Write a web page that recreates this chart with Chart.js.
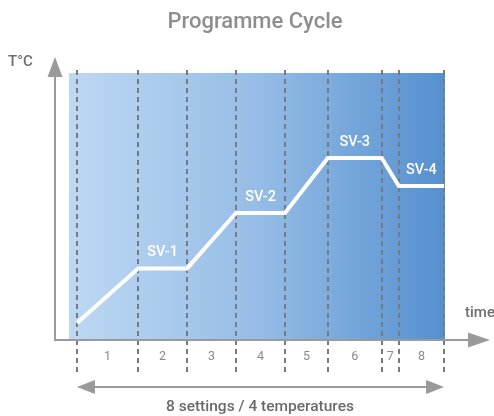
<!DOCTYPE html>
<html>
<head>
<meta charset="utf-8">
<script src="https://cdn.jsdelivr.net/npm/chart.js@4"></script>
<style>
html,body{margin:0;padding:0;background:#fff;}
#wrap{width:494px;height:416px;}
</style>
</head>
<body>
<div id="wrap"><canvas id="c" width="494" height="416"></canvas></div>
<script>
// Data
const stepBoundaries = [0, 10, 18, 26, 34, 41, 49.8, 52.6, 60];
const stepLabels = ['1','2','3','4','5','6','7','8'];
const profileTimes = [0, 10, 18, 26, 34, 41, 49.8, 52.6, 60];
const profileTemps = [6.4, 26.8, 26.8, 47.6, 47.6, 68.2, 68.2, 57.7, 57.7];
const svLabels = ['SV-1','SV-2','SV-3','SV-4'];
const svLabelTimes = [14, 30, 45.4, 56.3];
const titleText = 'Programme Cycle';
const yAxisLabel = 'T°C';
const xAxisLabel = 'time';
const spanLabel = '8 settings / 4 temperatures';

const FONT = 'Roboto, "Noto Sans", sans-serif';
const GREY = '#8e8e8e';

const deco = {
  id: 'deco',
  beforeDatasetsDraw(chart) {
    const {ctx, chartArea: a, scales: {x, y}} = chart;
    ctx.save();
    const g = ctx.createLinearGradient(a.left, 0, a.right, 0);
    g.addColorStop(0, '#bdd8f3');
    g.addColorStop(0.5, '#96bde6');
    g.addColorStop(1, '#5590cf');
    ctx.fillStyle = g;
    ctx.fillRect(a.left, a.top, a.right - a.left, a.bottom - a.top);
    // dashed step lines
    ctx.strokeStyle = '#777b80';
    ctx.lineWidth = 2;
    ctx.setLineDash([5, 4]);
    stepBoundaries.forEach(t => {
      const px = Math.round(x.getPixelForValue(t));
      ctx.beginPath();
      ctx.moveTo(px, a.top - 3);
      ctx.lineTo(px, a.bottom + 33);
      ctx.stroke();
    });
    ctx.setLineDash([]);
    // axes
    ctx.strokeStyle = '#9a9a9a';
    ctx.fillStyle = '#9a9a9a';
    ctx.lineWidth = 2;
    const ax = 55;
    ctx.beginPath();
    ctx.moveTo(ax, a.bottom + 1);
    ctx.lineTo(ax, 72);
    ctx.moveTo(ax - 1, a.bottom);
    ctx.lineTo(470, a.bottom);
    ctx.stroke();
    ctx.beginPath();
    ctx.moveTo(ax, 57); ctx.lineTo(ax - 7.5, 77); ctx.lineTo(ax + 7.5, 77); ctx.closePath(); ctx.fill();
    ctx.beginPath();
    ctx.moveTo(490, a.bottom); ctx.lineTo(468, a.bottom - 7.5); ctx.lineTo(468, a.bottom + 7.5); ctx.closePath(); ctx.fill();
    // span arrow
    const l = x.getPixelForValue(stepBoundaries[0]);
    const r = x.getPixelForValue(stepBoundaries[stepBoundaries.length - 1]);
    const sy = 387;
    ctx.beginPath();
    ctx.moveTo(l + 10, sy); ctx.lineTo(r - 10, sy); ctx.stroke();
    ctx.beginPath();
    ctx.moveTo(l, sy); ctx.lineTo(l + 18, sy - 7); ctx.lineTo(l + 18, sy + 7); ctx.closePath(); ctx.fill();
    ctx.beginPath();
    ctx.moveTo(r, sy); ctx.lineTo(r - 18, sy - 7); ctx.lineTo(r - 18, sy + 7); ctx.closePath(); ctx.fill();
    ctx.restore();
  },
  afterDatasetsDraw(chart) {
    const {ctx, chartArea: a, scales: {x, y}} = chart;
    ctx.save();
    ctx.textAlign = 'center';
    ctx.textBaseline = 'middle';
    // SV labels
    ctx.fillStyle = '#ffffff';
    ctx.font = '500 14.5px ' + FONT;
    svLabels.forEach((s, i) => {
      const idx = [1, 3, 5, 7][i];
      ctx.fillText(s, x.getPixelForValue(svLabelTimes[i]), y.getPixelForValue(profileTemps[idx]) - 16);
    });
    // step numbers
    ctx.fillStyle = '#8a8a8a';
    ctx.font = '400 12.5px ' + FONT;
    stepLabels.forEach((s, i) => {
      const m = (stepBoundaries[i] + stepBoundaries[i + 1]) / 2;
      ctx.fillText(s, x.getPixelForValue(m), a.bottom + 17);
    });
    // axis labels
    ctx.fillStyle = '#6e6e6e';
    ctx.font = '500 15px ' + FONT;
    ctx.textAlign = 'left';
    ctx.fillText(yAxisLabel, 8, 62);
    ctx.fillText(xAxisLabel, 465, 313);
    ctx.fillStyle = '#6a6a6a';
    ctx.textAlign = 'center';
    ctx.font = '500 15.5px ' + FONT;
    ctx.fillText(spanLabel, 260, 407);
    // title
    ctx.fillStyle = GREY;
    ctx.font = '500 22px ' + FONT;
    ctx.fillText(titleText, 255, 22);
    ctx.restore();
  }
};

new Chart(document.getElementById('c'), {
  type: 'line',
  data: {
    datasets: [{
      data: profileTimes.map((t, i) => ({x: t, y: profileTemps[i]})),
      borderColor: '#ffffff',
      borderWidth: 4,
      pointRadius: 0,
      tension: 0,
      borderJoinStyle: 'miter',
      fill: false
    }]
  },
  options: {
    responsive: false,
    animation: false,
    devicePixelRatio: 1,
    layout: {padding: {left: 69, right: 49, top: 73, bottom: 76}},
    plugins: {legend: {display: false}, tooltip: {enabled: false}},
    scales: {
      x: {type: 'linear', min: -1.3, max: 60.15, display: false},
      y: {type: 'linear', min: 0, max: 100, display: false}
    }
  },
  plugins: [deco]
});
</script>
</body>
</html>
